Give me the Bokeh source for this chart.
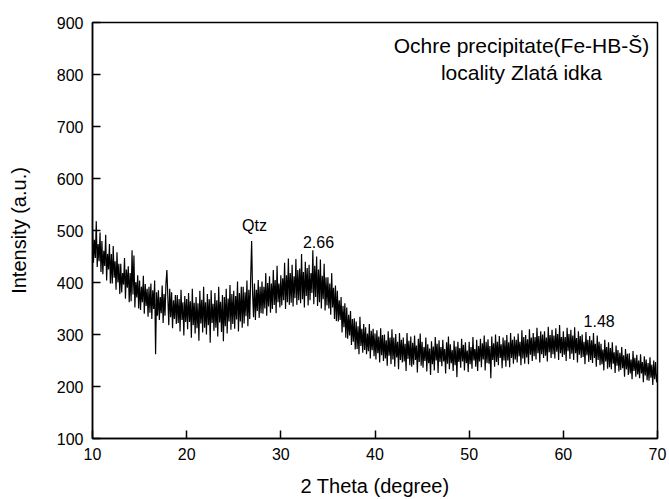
from bokeh.plotting import figure
from bokeh.models import Range1d, Label, FixedTicker, ColumnDataSource
from bokeh.core.properties import value
from bokeh.embed import file_html
from bokeh.resources import INLINE

# 2-theta grid: 10.0 .. 70.0 deg, step 0.1 (one row = one degree)
theta_start = 10.0
theta_step = 0.1
intensity = (
    [505, 438, 482, 447, 518, 430, 474, 441, 496, 420] +  # 10
    [480, 416, 461, 432, 492, 404, 455, 425, 474, 398] +  # 11
    [455, 398, 470, 409, 441, 386, 458, 400, 436, 378] +  # 12
    [436, 381, 418, 396, 447, 369, 425, 390, 431, 362] +  # 13
    [418, 364, 462, 377, 452, 352, 401, 371, 414, 350] +  # 14
    [404, 347, 392, 362, 413, 340, 397, 355, 388, 334] +  # 15
    [392, 342, 398, 330, 385, 349, 404, 262, 381, 336] +  # 16
    [385, 328, 372, 341, 394, 322, 378, 336, 398, 424] +  # 17
    [372, 318, 388, 333, 381, 312, 366, 330, 376, 320] +  # 18
    [376, 322, 368, 306, 386, 328, 362, 298, 374, 324] +  # 19
    [368, 310, 380, 324, 364, 294, 388, 318, 361, 302] +  # 20
    [372, 312, 360, 288, 384, 321, 367, 304, 392, 313] +  # 21
    [362, 300, 378, 318, 368, 284, 385, 322, 359, 307] +  # 22
    [380, 313, 366, 296, 392, 323, 363, 305, 376, 287] +  # 23
    [372, 316, 388, 302, 369, 325, 395, 309, 378, 320] +  # 24
    [384, 311, 374, 329, 402, 306, 380, 325, 392, 313] +  # 25
    [392, 321, 381, 335, 404, 316, 386, 330, 410, 480] +  # 26
    [380, 333, 398, 328, 386, 345, 405, 332, 392, 341] +  # 27
    [402, 340, 392, 350, 418, 336, 399, 354, 412, 342] +  # 28
    [398, 349, 424, 357, 405, 341, 432, 362, 398, 352] +  # 29
    [414, 356, 408, 366, 438, 349, 414, 362, 446, 357] +  # 30
    [418, 361, 434, 354, 412, 370, 445, 357, 424, 366] +  # 31
    [427, 360, 455, 368, 420, 352, 440, 374, 428, 356] +  # 32
    [434, 366, 418, 380, 462, 358, 432, 372, 450, 355] +  # 33
    [425, 362, 444, 350, 413, 368, 436, 346, 410, 356] +  # 34
    [410, 350, 398, 338, 418, 352, 390, 330, 394, 326] +  # 35
    [384, 325, 366, 328, 372, 304, 355, 314, 360, 294] +  # 36
    [352, 292, 338, 298, 345, 280, 330, 286, 331, 271] +  # 37
    [325, 272, 316, 262, 334, 278, 311, 265, 320, 270] +  # 38
    [314, 262, 302, 268, 320, 254, 307, 270, 311, 258] +  # 39
    [302, 252, 308, 264, 296, 246, 312, 260, 299, 249] +  # 40
    [300, 254, 289, 240, 306, 259, 294, 243, 310, 252] +  # 41
    [294, 238, 301, 256, 286, 233, 303, 251, 290, 246] +  # 42
    [294, 248, 282, 230, 303, 253, 288, 241, 296, 238] +  # 43
    [284, 242, 298, 251, 279, 227, 292, 247, 302, 240] +  # 44
    [286, 236, 276, 249, 294, 229, 281, 245, 273, 222] +  # 45
    [287, 243, 277, 231, 295, 250, 282, 226, 289, 247] +  # 46
    [276, 239, 290, 248, 272, 225, 285, 244, 296, 233] +  # 47
    [281, 245, 270, 230, 288, 241, 277, 218, 286, 247] +  # 48
    [274, 236, 292, 248, 280, 231, 285, 245, 269, 228] +  # 49
    [286, 243, 276, 234, 295, 250, 272, 238, 290, 230] +  # 50
    [278, 248, 292, 237, 283, 252, 298, 231, 286, 245] +  # 51
    [291, 244, 278, 216, 296, 251, 283, 238, 300, 247] +  # 52
    [286, 241, 297, 255, 281, 235, 294, 250, 289, 238] +  # 53
    [299, 250, 285, 237, 303, 255, 290, 244, 296, 252] +  # 54
    [290, 246, 302, 258, 286, 241, 308, 254, 295, 244] +  # 55
    [299, 256, 291, 243, 310, 261, 294, 249, 303, 258] +  # 56
    [295, 252, 313, 264, 297, 246, 306, 262, 300, 255] +  # 57
    [306, 259, 294, 248, 315, 266, 299, 255, 309, 262] +  # 58
    [298, 254, 312, 267, 301, 251, 318, 264, 295, 257] +  # 59
    [306, 261, 295, 249, 313, 268, 301, 253, 309, 263] +  # 60
    [298, 251, 314, 264, 293, 246, 306, 261, 297, 255] +  # 61
    [300, 257, 286, 243, 305, 260, 290, 247, 297, 251] +  # 62
    [289, 245, 303, 255, 282, 238, 298, 251, 286, 241] +  # 63
    [282, 243, 271, 231, 290, 248, 276, 234, 285, 237] +  # 64
    [274, 233, 285, 244, 266, 226, 279, 240, 270, 229] +  # 65
    [265, 232, 276, 235, 260, 219, 272, 233, 263, 222] +  # 66
    [264, 225, 252, 214, 268, 230, 255, 219, 261, 223] +  # 67
    [250, 216, 262, 225, 247, 208, 258, 221, 252, 212] +  # 68
    [245, 211, 256, 217, 242, 203, 250, 214, 247, 208] +  # 69
    [223]                                                 # 70
)
two_theta = [round(theta_start + i * theta_step, 1) for i in range(len(intensity))]

x_ticks = [10, 20, 30, 40, 50, 60, 70]
y_ticks = [100, 200, 300, 400, 500, 600, 700, 800, 900]

peak_labels = ["Qtz", "2.66", "1.48"]
peak_x = [27.2, 34.0, 63.8]
peak_y = [510, 477, 326]

title_lines = ["Ochre precipitate(Fe-HB-\u0160)", "locality Zlat\u00e1 idka"]

FONT = "Liberation Sans"

p = figure(width=669, height=499, output_backend="svg", toolbar_location=None,
           x_range=Range1d(10, 70), y_range=Range1d(100, 900),
           min_border_left=92, min_border_right=12, min_border_top=22, min_border_bottom=59)
p.background_fill_color = "white"
p.border_fill_color = "white"
p.grid.visible = False
p.outline_line_color = "black"
p.outline_line_width = 1.5
p.outline_line_alpha = 1.0

p.line(two_theta, intensity, line_color="black", line_width=1.2)

src = ColumnDataSource(dict(x=peak_x, y=peak_y, t=peak_labels))
p.text(x="x", y="y", text="t", source=src, text_font=value(FONT), text_font_size="16px",
       text_align="center", text_baseline="middle", text_color="black")

for line, yv in zip(title_lines, [856, 804]):
    p.add_layout(Label(x=55.55, y=yv, text=line, text_font=FONT, text_font_size="21px",
                       text_align="center", text_baseline="middle", text_color="black"))

for ax in (p.xaxis[0], p.yaxis[0]):
    ax.axis_line_width = 1.5
    ax.axis_line_color = "black"
    ax.major_tick_in = 8
    ax.major_tick_out = 0
    ax.major_tick_line_width = 1.5
    ax.minor_tick_line_color = None
    ax.major_label_text_font = FONT
    ax.major_label_text_font_size = "16px"
    ax.major_label_text_color = "black"
    ax.axis_label_text_font = FONT
    ax.axis_label_text_font_size = "20px"
    ax.axis_label_text_font_style = "normal"
    ax.axis_label_text_color = "black"

p.xaxis.ticker = FixedTicker(ticks=x_ticks)
p.yaxis.ticker = FixedTicker(ticks=y_ticks)
p.xaxis.axis_label = "2 Theta (degree)"
p.yaxis.axis_label = "Intensity (a.u.)"
p.xaxis.major_label_standoff = 9
p.yaxis.major_label_standoff = 9
p.xaxis.axis_label_standoff = 12
p.yaxis.axis_label_standoff = 24

open("out.html", "w").write(file_html(p, INLINE))
